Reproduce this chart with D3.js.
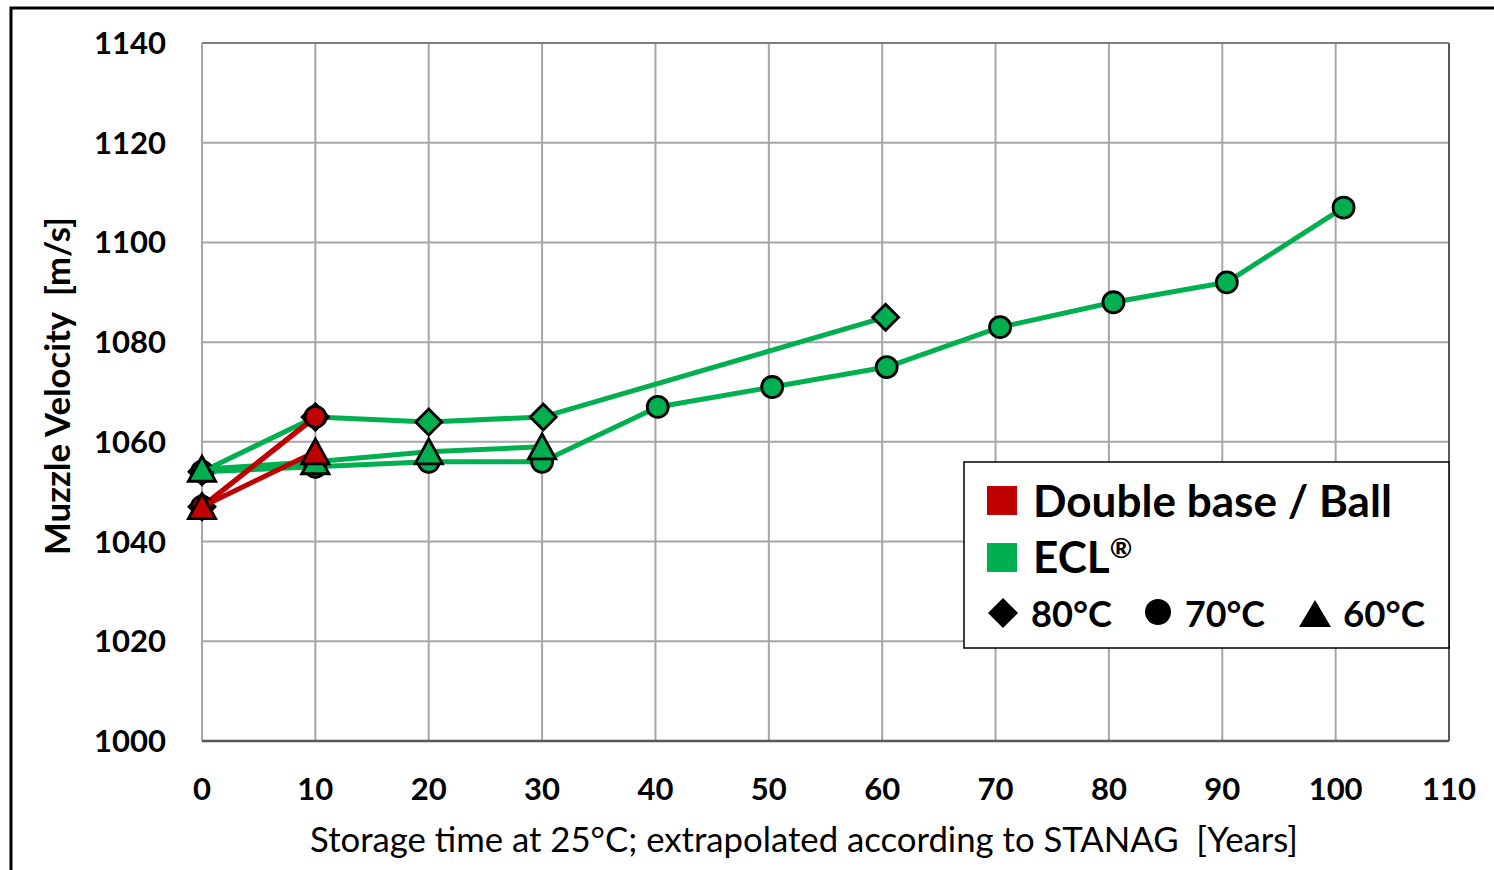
<!DOCTYPE html>
<html><head><meta charset="utf-8">
<script src="https://cdn.jsdelivr.net/npm/d3@7"></script>
<style>html,body{margin:0;padding:0;background:#fff;overflow:hidden}svg{display:block}text{white-space:pre}</style>
</head><body>
<svg id="c" width="1494" height="870"></svg>
<script>
// ---------- data ----------
const xTicks = [0,10,20,30,40,50,60,70,80,90,100,110];
const yTicks = [1000,1020,1040,1060,1080,1100,1120,1140];

const eclYears80 = [0, 10, 20, 30.1, 60.3];
const eclVel80   = [1054, 1065, 1064, 1065, 1085];
const eclYears70 = [0, 10, 20, 30, 40.2, 50.3, 60.4, 70.4, 80.4, 90.4, 100.7];
const eclVel70   = [1054, 1055, 1056, 1056, 1067, 1071, 1075, 1083, 1088, 1092, 1107];
const eclYears60 = [0, 10, 20, 30];
const eclVel60   = [1054.5, 1056, 1058, 1059];

const dbYears = [0, 10];
const dbVel80 = [1047, 1065];
const dbVel70 = [1047, 1065];
const dbVel60 = [1047, 1058];

const legendProps = ["Double base / Ball", "ECL"];
const legendTemps = ["80°C", "70°C", "60°C"];
const xTitle = "Storage time at 25°C; extrapolated according to STANAG  [Years]";
const yTitle = "Muzzle Velocity  [m/s]";

// ---------- setup ----------
const GREEN = "#00B050", RED = "#C00000";
const FONT = "Lato, 'Open Sans', sans-serif";
const svg = d3.select("#c");
const x = d3.scaleLinear().domain([0,110]).range([202,1449]);
const y = d3.scaleLinear().domain([1000,1140]).range([741,43]);

function fit(sel, w){
  const L = sel.node().getComputedTextLength();
  const fs = parseFloat(sel.attr("font-size"));
  sel.attr("font-size", fs*w/L);
}

// outer frame
svg.append("path").attr("d","M11,875V8H1500").attr("fill","none").attr("stroke","#000").attr("stroke-width",3);

// grid
const g = svg.append("g");
g.selectAll(".vg").data(xTicks).join("line")
  .attr("x1",d=>x(d)).attr("x2",d=>x(d)).attr("y1",y(1140)).attr("y2",y(1000))
  .attr("stroke","#a6a6a6").attr("stroke-width",2);
g.selectAll(".hg").data(yTicks).join("line")
  .attr("x1",x(0)).attr("x2",x(110)).attr("y1",d=>y(d)).attr("y2",d=>y(d))
  .attr("stroke","#a6a6a6").attr("stroke-width",2);
// plot borders
g.append("line").attr("x1",x(0)).attr("x2",x(110)).attr("y1",y(1000)).attr("y2",y(1000)).attr("stroke","#595959").attr("stroke-width",2.5);
g.append("line").attr("x1",x(110)).attr("x2",x(110)).attr("y1",y(1140)).attr("y2",y(1000)).attr("stroke","#595959").attr("stroke-width",2);
g.append("line").attr("x1",x(0)).attr("x2",x(110)).attr("y1",y(1140)).attr("y2",y(1140)).attr("stroke","#7f7f7f").attr("stroke-width",2);

// tick labels
const yl = svg.append("g").selectAll("text").data(yTicks).join("text")
  .attr("x",166).attr("y",d=>y(d)+11).attr("text-anchor","end")
  .attr("font-family",FONT).attr("font-weight","bold").attr("font-size",31).attr("fill","#000")
  .text(d=>d);
const xl = svg.append("g").selectAll("text").data(xTicks).join("text")
  .attr("x",d=>x(d)).attr("y",800).attr("text-anchor","middle")
  .attr("font-family",FONT).attr("font-weight","bold").attr("font-size",31).attr("fill","#000")
  .text(d=>d);
{
  const t = yl.filter(d=>d===1140); fit(t,72);
  const fs = t.attr("font-size"); yl.attr("font-size",fs); xl.attr("font-size",fs);
}

// axis titles
const xt = svg.append("text").attr("x",804).attr("y",852).attr("text-anchor","middle")
  .attr("font-family",FONT).attr("font-size",30).attr("fill","#000").text(xTitle);
fit(xt, 988);
const yt = svg.append("text").attr("transform","translate(70,386) rotate(-90)").attr("text-anchor","middle")
  .attr("font-family",FONT).attr("font-weight","bold").attr("font-size",30).attr("fill","#000").text(yTitle);
fit(yt, 338);

// ---------- markers ----------
function markerPath(type, s){
  if(type==="diamond") return `M0,${-s}L${s},0L0,${s}L${-s},0Z`;
  if(type==="triangle") return `M0,${-s}L${s*1.05},${s*0.92}L${-s*1.05},${s*0.92}Z`;
  return d3.arc()({innerRadius:0,outerRadius:s,startAngle:0,endAngle:2*Math.PI});
}
const line = d3.line().x(d=>x(d[0])).y(d=>y(d[1]));
const series = [
  {xs:eclYears80, vs:eclVel80, color:GREEN, m:"diamond", s:13},
  {xs:eclYears70, vs:eclVel70, color:GREEN, m:"circle", s:10.5},
  {xs:eclYears60, vs:eclVel60, color:GREEN, m:"triangle", s:13},
  {xs:dbYears, vs:dbVel80, color:RED, m:"diamond", s:13},
  {xs:dbYears, vs:dbVel70, color:RED, m:"circle", s:10.5},
  {xs:dbYears, vs:dbVel60, color:RED, m:"triangle", s:13},
];
const sg = svg.append("g");
series.forEach(sr=>{
  const pts = sr.xs.map((v,i)=>[v, sr.vs[i]]);
  const gg = sg.append("g");
  gg.append("path").attr("d",line(pts)).attr("fill","none").attr("stroke",sr.color)
    .attr("stroke-width",5).attr("stroke-linejoin","round");
  gg.selectAll("path.m").data(pts).join("path").attr("class","m")
    .attr("transform",d=>`translate(${x(d[0])},${y(d[1])})`)
    .attr("d",markerPath(sr.m, sr.s)).attr("fill",sr.color)
    .attr("stroke","#000").attr("stroke-width",2.8).attr("stroke-linejoin","miter");
});

// ---------- legend ----------
const lg = svg.append("g");
lg.append("rect").attr("x",964).attr("y",462).attr("width",485).attr("height",186)
  .attr("fill","#fff").attr("stroke","#000").attr("stroke-width",1.5);
lg.append("rect").attr("x",987).attr("y",486).attr("width",30).attr("height",29).attr("fill",RED);
lg.append("rect").attr("x",987).attr("y",543).attr("width",30).attr("height",29).attr("fill",GREEN);
const t1 = lg.append("text").attr("x",1033).attr("y",517).attr("font-family",FONT).attr("font-weight","bold")
  .attr("font-size",42).text(legendProps[0]);
fit(t1, 359);
const lfs = +t1.attr("font-size");
const t2 = lg.append("text").attr("x",1033).attr("y",573).attr("font-family",FONT).attr("font-weight","bold")
  .attr("font-size",lfs);
t2.append("tspan").text(legendProps[1]);
t2.append("tspan").attr("font-size",lfs*0.62).attr("dy",-15).text("®");
const tx = [1031,1185,1343], tw=[81,80,82];
legendTemps.forEach((s,i)=>{
  const t = lg.append("text").attr("x",tx[i]).attr("y",627).attr("font-family",FONT).attr("font-weight","bold")
    .attr("font-size",lfs).text(s);
  fit(t, tw[i]);
});
lg.append("path").attr("transform","translate(1003,613)").attr("d",markerPath("diamond",15)).attr("fill","#000");
lg.append("path").attr("transform","translate(1158,612)").attr("d",markerPath("circle",13)).attr("fill","#000");
lg.append("path").attr("transform","translate(1315,614)").attr("d","M0,-14L16,13L-16,13Z").attr("fill","#000");
</script>
</body></html>
